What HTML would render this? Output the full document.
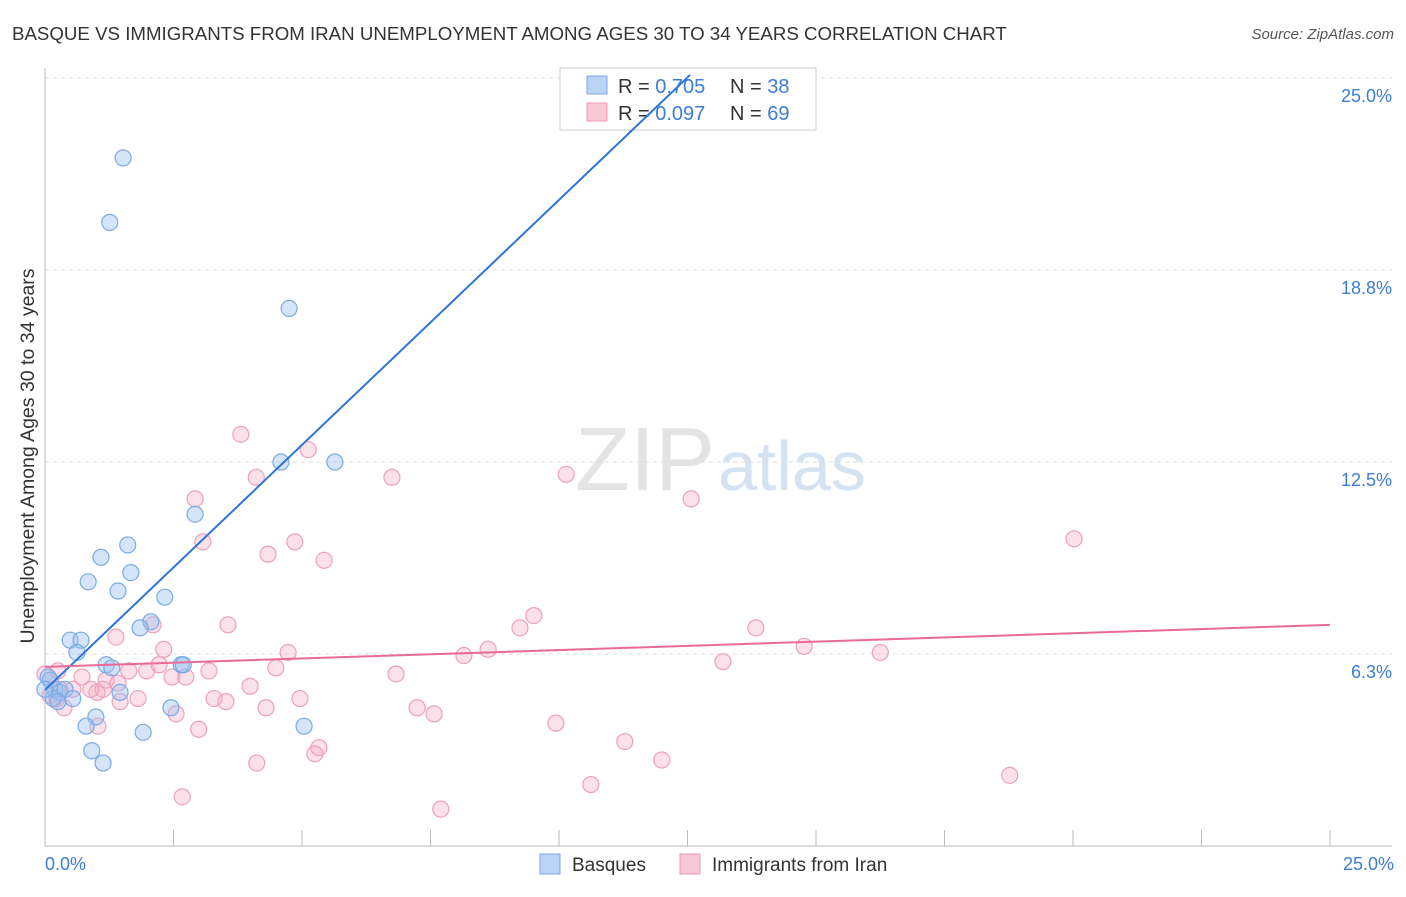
<!DOCTYPE html>
<html><head><meta charset="utf-8"><style>
body{margin:0;background:#fff;font-family:"Liberation Sans",sans-serif;}
svg text{font-family:"Liberation Sans",sans-serif;}
</style></head><body>
<svg id="chart" width="1406" height="892">
<text x="12" y="40" font-size="18.7" fill="#333">BASQUE VS IMMIGRANTS FROM IRAN UNEMPLOYMENT AMONG AGES 30 TO 34 YEARS CORRELATION CHART</text>
<text x="1394" y="39" font-size="15" fill="#555" text-anchor="end" font-style="italic">Source: ZipAtlas.com</text>
<text x="34" y="456" font-size="19.5" fill="#333" text-anchor="middle" transform="rotate(-90 34 456)">Unemployment Among Ages 30 to 34 years</text>
<text x="715" y="490" font-size="90" fill="#e4e4e4" text-anchor="end" font-family="Liberation Serif">ZIP</text>
<text x="718" y="490" font-size="70" fill="#d4e2f2">atlas</text>
<g id="grid"></g><g id="pts"></g>
<g>
<rect x="560" y="68" width="256" height="62" fill="#fff" stroke="#ccc"/>
<rect x="587" y="76" width="20" height="18" fill="#b9d4f5" stroke="#7aaae6"/>
<text x="618" y="93" font-size="20" fill="#333">R = <tspan fill="#3b7dd8">0.705</tspan></text>
<text x="730" y="93" font-size="20" fill="#333">N = <tspan fill="#3b7dd8">38</tspan></text>
<rect x="587" y="103" width="20" height="18" fill="#f8c8d6" stroke="#ec9ab4"/>
<text x="618" y="120" font-size="20" fill="#333">R = <tspan fill="#3b7dd8">0.097</tspan></text>
<text x="730" y="120" font-size="20" fill="#333">N = <tspan fill="#3b7dd8">69</tspan></text>
</g>
<g id="lines"></g>
<g>
<rect x="540" y="854" width="20" height="20" fill="#b9d4f5" stroke="#7aaae6"/>
<text x="572" y="871" font-size="19" fill="#333">Basques</text>
<rect x="680" y="854" width="20" height="20" fill="#f8c8d6" stroke="#ec9ab4"/>
<text x="712" y="871" font-size="19" fill="#333">Immigrants from Iran</text>
</g>
</svg>
<script>
const yTicks=[6.25,12.5,18.75,25];
const yTickLabels=["6.3%","12.5%","18.8%","25.0%"];
const xTicks=[0,2.5,5,7.5,10,12.5,15,17.5,20,22.5,25];
const basqueX=[1.52,1.26,4.75,4.59,5.64,2.92,1.61,1.09,0.84,1.67,1.42,2.33,2.06,1.85,0.49,0.70,0.62,1.19,1.30,2.65,2.69,0.10,0.19,0.29,0.39,1.46,0.16,0.54,2.45,0.99,0.80,5.04,1.91,0.91,1.13,0.06,0.25,0.0];
const basqueY=[22.4,20.3,17.5,12.5,12.5,10.8,9.8,9.4,8.6,8.9,8.3,8.1,7.3,7.1,6.7,6.7,6.3,5.9,5.8,5.9,5.9,5.4,5.1,5.0,5.1,5.0,4.8,4.8,4.5,4.2,3.9,3.9,3.7,3.1,2.7,5.5,4.7,5.1];
const iranX=[3.81,5.12,2.92,4.11,6.75,10.14,12.57,20.02,3.07,4.86,4.34,5.43,9.51,9.24,13.83,3.56,1.38,2.10,2.31,4.73,8.62,8.15,14.77,16.25,13.19,0.25,0.72,1.19,1.63,1.98,2.22,2.47,2.74,3.19,4.49,6.83,1.13,1.42,1.01,0.54,0.89,3.99,4.96,3.29,3.52,1.81,1.46,0.23,0.37,2.55,4.30,7.24,7.57,9.94,1.03,2.99,11.28,5.33,5.25,12.00,4.12,2.67,10.62,18.77,7.70,0.0,0.10,0.29];
const iranY=[13.4,12.9,11.3,12.0,12.0,12.1,11.3,10.0,9.9,9.9,9.5,9.3,7.5,7.1,7.1,7.2,6.8,7.2,6.4,6.3,6.4,6.2,6.5,6.3,6.0,5.7,5.5,5.4,5.7,5.7,5.9,5.5,5.5,5.7,5.8,5.6,5.1,5.3,5.0,5.1,5.1,5.2,4.8,4.8,4.7,4.8,4.7,4.8,4.5,4.3,4.5,4.5,4.3,4.0,3.9,3.8,3.4,3.2,3.0,2.8,2.7,1.6,2.0,2.3,1.2,5.6,4.9,5.1];
const blueLine=[[0,5.08],[12.55,25.1]];
const pinkLine=[[0,5.83],[25,7.2]];
const NS='http://www.w3.org/2000/svg';
const X=v=>45+v/25*1285, Y=v=>846-v/6.25*192;
function mk(t,a,p){const e=document.createElementNS(NS,t);for(const k in a)e.setAttribute(k,a[k]);p.appendChild(e);return e;}
const g=document.getElementById('grid');
mk('line',{x1:45,y1:846,x2:1392,y2:846,stroke:'#bbb'},g);
mk('line',{x1:45,y1:68,x2:45,y2:846,stroke:'#bbb'},g);
yTicks.forEach((v,i)=>{
 const l=mk('line',{x1:45,y1:Y(v),x2:1392,y2:Y(v),stroke:'#ddd','stroke-dasharray':'4,4'},g);
 
 
 const t=mk('text',{x:1392,y:Y(v)+24,'font-size':18,fill:'#3b7dd8','text-anchor':'end'},g);
 t.textContent=yTickLabels[i];
 
 
});
xTicks.forEach(v=>{
 const l=mk('line',{x1:X(v),y1:830,x2:X(v),y2:846,stroke:'#bbb'},g);
 
 
});
const t0=mk('text',{x:45,y:870,'font-size':18,fill:'#3b7dd8'},g);t0.textContent='0.0%';


const t1=mk('text',{x:1394,y:870,'font-size':18,fill:'#3b7dd8','text-anchor':'end'},g);t1.textContent='25.0%';


const p=document.getElementById('pts');
iranX.forEach((v,i)=>{
 const c=mk('circle',{cx:X(v),cy:Y(iranY[i]),r:8,fill:'rgba(245,170,195,0.35)',stroke:'#eea0bb','stroke-width':1.2},p);
 
 
});
basqueX.forEach((v,i)=>{
 const c=mk('circle',{cx:X(v),cy:Y(basqueY[i]),r:8,fill:'rgba(150,190,240,0.4)',stroke:'#7aaae6','stroke-width':1.2},p);
 
 
});
const L=document.getElementById('lines');
const bl=mk('line',{x1:X(blueLine[0][0]),y1:Y(blueLine[0][1]),x2:X(blueLine[1][0]),y2:Y(blueLine[1][1]),stroke:'#2f74d8','stroke-width':2},L);


const pl=mk('line',{x1:X(pinkLine[0][0]),y1:Y(pinkLine[0][1]),x2:X(pinkLine[1][0]),y2:Y(pinkLine[1][1]),stroke:'#e86a95','stroke-width':2},L);


</script>
</body></html>
